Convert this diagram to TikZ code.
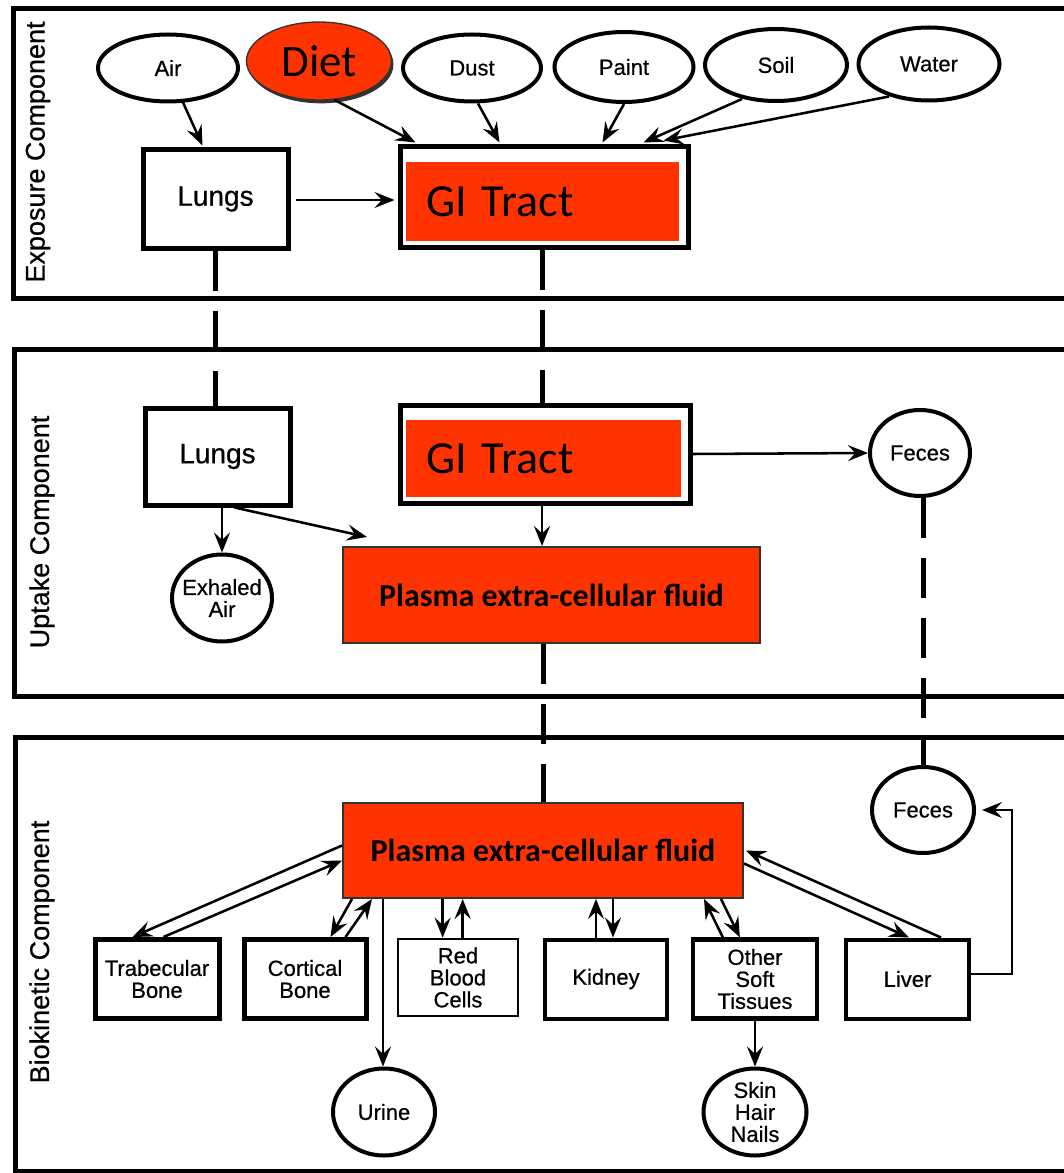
\documentclass[tikz,border=0pt]{standalone}
\usepackage{fontspec}
\setmainfont{Liberation Sans}[FakeBold=0.6]
\newfontfamily\calfont{Carlito}
\usetikzlibrary{shapes.geometric,arrows.meta,calc,shadows}
\definecolor{fire}{RGB}{255,51,0}
\definecolor{edgegray}{RGB}{50,50,50}
\begin{document}
\begin{tikzpicture}[x=0.75pt,y=-0.75pt,
  panel/.style={line width=3.75pt},
  oval/.style={ellipse, draw, line width=3pt, inner sep=0pt, align=center,
    font=\fontsize{16.5}{16.5}\selectfont},
  rbox/.style={rectangle, draw, line width=3.75pt, inner sep=0pt, align=center,
    font=\fontsize{16.5}{16.5}\selectfont},
  arr/.style={line width=1.9pt, -{Stealth[length=15pt,width=12pt,inset=5.5pt]}},
  dlink/.style={line width=3.75pt, dash pattern=on 30pt off 15pt},
  sidelabel/.style={rotate=90, font=\fontsize{20.25}{24}\selectfont},
  redbox/.style={rectangle, draw=edgegray, line width=1.5pt, fill=fire,
    font=\calfont\bfseries\fontsize{24}{28}\selectfont},
  gibox/.style={rectangle, draw, line width=3.75pt, inner xsep=19.5pt, inner ysep=0pt,
    align=left, font=\calfont\fontsize{34.5}{40}\selectfont,
    text height=29.7pt, text depth=0pt,
    path picture={\fill[fire] ($(path picture bounding box.north west)+(6,15)$)
      rectangle ($(path picture bounding box.south east)+(-9,-6)$);}}
]
\useasboundingbox (0,0) rectangle (1063,1173);

% panels
\draw[panel] (1070,9) -- (13,9) -- (13,298) -- (1070,298);
\draw[panel] (1070,349) -- (14,349) -- (14,696) -- (1070,696);
\draw[panel] (1070,737) -- (15,737) -- (15,1171) -- (1070,1171);

\node[sidelabel] (lblE) at (38,152) {Exposure Component};
\node[sidelabel] (lblU) at (42,532) {Uptake Component};
\node[sidelabel] (lblB) at (42,952) {Biokinetic Component};

% exposure
\node[oval, minimum width=105pt, minimum height=50.25pt] (air) at (168,68) {Air};
\node[oval, fill=fire, draw=edgegray, line width=1pt, minimum width=108.75pt, minimum height=58.5pt,
  font=\calfont\fontsize{33.75}{40}\selectfont,
  drop shadow={shadow xshift=1.5pt, shadow yshift=-2.5pt, fill=black!80, opacity=1}] (diet) at (319,61) {Diet};
\node[oval, minimum width=103.5pt, minimum height=50.25pt] (dust) at (472,68) {Dust};
\node[oval, minimum width=104.25pt, minimum height=52.5pt] (paint) at (624,67) {Paint};
\node[oval, minimum width=106.5pt, minimum height=54pt] (soil) at (776,65) {Soil};
\node[oval, minimum width=105.75pt, minimum height=54.75pt] (water) at (929,64) {Water};

\node[rbox, minimum width=108.75pt, minimum height=73.5pt, font=\fontsize{21}{25}\selectfont] (lungsE) at (215.5,199) {Lungs};
\node[gibox, text width=177pt, minimum height=75pt] (giE) at (544,197) {GI Tract};

% uptake
\node[rbox, minimum width=108.75pt, minimum height=72.75pt, font=\fontsize{21}{25}\selectfont] (lungsU) at (217.5,456.5) {Lungs};
\node[gibox, text width=178.5pt, minimum height=73.5pt] (giU) at (545,454) {GI Tract};
\node[oval, minimum width=75pt, minimum height=64.5pt] (fecesU) at (920,453) {Feces};
\node[oval, inner xsep=-10pt, inner ysep=-10pt, minimum width=75pt, minimum height=65.25pt] (exhaled) at (222,598) {Exhaled\\Air};
\node[redbox, minimum width=312.75pt, minimum height=72pt] (plasmaU) at (551.5,595) {Plasma extra-cellular fluid};

% biokinetic
\node[redbox, minimum width=300pt, minimum height=71.25pt] (plasmaB) at (543,850.5) {Plasma extra-cellular fluid};
\node[oval, minimum width=76.5pt, minimum height=64.5pt] (fecesB) at (923,810) {Feces};
\node[rbox, minimum width=93pt, minimum height=59.25pt] (trab) at (157,979) {Trabecular\\Bone};
\node[rbox, minimum width=91.5pt, minimum height=59.25pt] (cort) at (305,979) {Cortical\\Bone};
\node[rbox, line width=2pt, minimum width=90pt, minimum height=57.75pt] (rbc) at (458,977.5) {Red\\Blood\\Cells};
\node[rbox, line width=3pt, minimum width=91.5pt, minimum height=59.25pt] (kidney) at (606,979) {Kidney};
\node[rbox, line width=3.2pt, minimum width=93pt, minimum height=59.25pt] (ost) at (755,979) {Other\\Soft\\Tissues};
\node[rbox, line width=3pt, minimum width=92.25pt, minimum height=59.25pt] (liver) at (907.5,979) {Liver};
\node[oval, minimum width=76.5pt, minimum height=65.25pt] (urine) at (384,1112) {Urine};
\node[oval, inner xsep=-10pt, inner ysep=-10pt, minimum width=77.25pt, minimum height=65.25pt] (skin) at (755,1112) {Skin\\Hair\\Nails};

% helper coordinates for vertical connectors
\coordinate (gE) at ($(giE.south)+(-2,0)$);
\coordinate (gU) at ($(giU.south)+(-3,0)$);
\coordinate (uS) at ($(plasmaB.south west)+(41,0)$);
\coordinate (r1) at ($(rbc.north west)+(46,0)$);
\coordinate (r2) at ($(rbc.north west)+(66,0)$);
\coordinate (k1) at ($(kidney.north west)+(53,0)$);
\coordinate (k2) at ($(kidney.north west)+(70,0)$);

% exposure arrows
\draw[arr] ($(air.south)+(15,-1)$) -- ($(lungsE.north west)+(62,-2)$);
\draw[arr] ($(diet.south)+(15,-1)$) -- ($(giE.north west)+(18,-2)$);
\draw[arr] ($(dust.south)+(6,0)$) -- ($(giE.north west)+(102,-2)$);
\draw[arr] (paint.south) -- ($(giE.north west)+(205,-2)$);
\draw[arr] ($(soil.south)+(-34,-4)$) -- ($(giE.north west)+(246,-2)$);
\draw[arr] ($(water.south)+(-40,-6)$) -- ($(giE.north west)+(266,-4)$);
\draw[arr] ($(lungsE.east)+(5,1)$) -- ($(giE.west)+(-3,3)$);

% dashed links between components
\draw[dlink] (lungsE.south) -- (lungsE.south |- lungsU.north);
\draw[dlink] (gE) -- (gE |- giU.north);
\draw[dlink] (plasmaB.north |- plasmaU.south) -- (plasmaB.north);
\draw[dlink] (fecesB.north |- fecesU.south) -- (fecesB.north);

% uptake arrows
\draw[arr] (giU.east) -- (fecesU.west);
\draw[arr] (exhaled.north |- lungsU.south) -- (exhaled.north);
\draw[arr] ($(lungsU.south)+(17,0)$) -- ($(plasmaU.north west)+(25,-9)$);
\draw[arr] (gU) -- (gU |- plasmaU.north);

% biokinetic arrows
\draw[arr] ($(plasmaB.west)+(0,-5)$) -- ($(trab.north west)+(40,0)$);
\draw[arr] ($(trab.north west)+(71,0)$) -- ($(plasmaB.west)+(0,10)$);
\draw[arr] ($(plasmaB.south west)+(10,0)$) -- ($(cort.north west)+(89,0)$);
\draw[arr] ($(cort.north west)+(104,0)$) -- ($(plasmaB.south west)+(30,0)$);
\draw[arr] (uS) -- (uS |- urine.north);
\draw[arr] (r1 |- plasmaB.south) -- (r1);
\draw[arr] (r2) -- (r2 |- plasmaB.south);
\draw[arr] (k1) -- (k1 |- plasmaB.south);
\draw[arr] (k2 |- plasmaB.south) -- (k2);
\draw[arr] ($(ost.north west)+(32,0)$) -- ($(plasmaB.south east)+(-40,0)$);
\draw[arr] ($(plasmaB.south east)+(-23,0)$) -- ($(ost.north west)+(49,0)$);
\draw[arr] ($(liver.north west)+(97,0)$) -- ($(plasmaB.east)+(2,0)$);
\draw[arr] ($(plasmaB.east)+(0,13)$) -- ($(liver.north west)+(65,0)$);
\draw[arr] ($(liver.east)+(0,-5)$) -| ($(fecesB.east)+(36,0)$) -- ($(fecesB.east)+(6,0)$);
\draw[arr] (ost.south) -- (skin.north);
\end{tikzpicture}
\end{document}
